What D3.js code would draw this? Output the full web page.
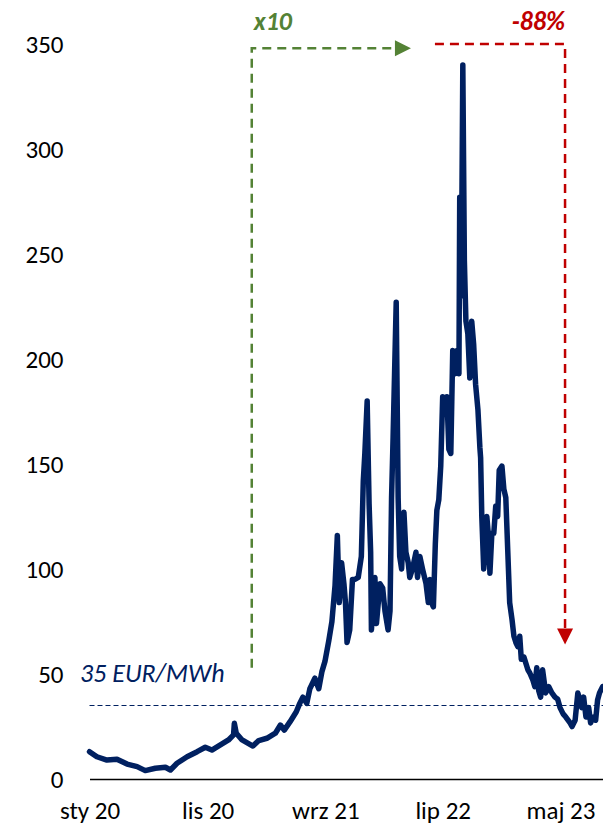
<!DOCTYPE html>
<html>
<head>
<meta charset="utf-8">
<script src="https://cdn.jsdelivr.net/npm/d3@7"></script>
<style>
  html, body { margin: 0; padding: 0; background: #ffffff; }
  svg { display: block; }
</style>
</head>
<body>
<svg id="chart" width="603" height="826"></svg>
<script>
// TTF gas price, EUR/MWh
const priceDates = [
  "2020-01-01","2020-01-20","2020-02-15","2020-03-12","2020-04-07","2020-05-03","2020-05-24",
  "2020-06-19","2020-07-15","2020-07-28","2020-08-14","2020-09-09","2020-10-05","2020-10-26",
  "2020-11-12","2020-12-04","2020-12-25","2021-01-07","2021-01-09","2021-01-14","2021-01-29",
  "2021-02-26","2021-03-13","2021-04-03","2021-04-25","2021-05-08","2021-05-18","2021-06-02",
  "2021-06-18","2021-06-27","2021-07-05","2021-07-15","2021-07-23","2021-08-05","2021-08-15",
  "2021-08-23","2021-08-31","2021-09-10","2021-09-18","2021-09-26","2021-10-02","2021-10-07",
  "2021-10-13","2021-10-19","2021-10-23","2021-10-27","2021-11-03","2021-11-10","2021-11-16",
  "2021-11-25","2021-12-03","2021-12-08","2021-12-12","2021-12-18","2021-12-23","2021-12-27",
  "2021-12-29","2022-01-07","2022-01-11","2022-01-20","2022-01-27","2022-02-02","2022-02-10",
  "2022-02-15","2022-02-19","2022-02-23","2022-03-03","2022-03-08","2022-03-12","2022-03-17",
  "2022-03-23","2022-03-28","2022-04-03","2022-04-07","2022-04-14","2022-04-23","2022-04-27",
  "2022-05-03","2022-05-10","2022-05-19","2022-05-25","2022-05-29","2022-06-02","2022-06-07",
  "2022-06-12","2022-06-16","2022-06-21","2022-06-26","2022-07-01","2022-07-07","2022-07-12",
  "2022-07-17","2022-07-22","2022-07-27","2022-08-02","2022-08-07","2022-08-12","2022-08-14",
  "2022-08-18","2022-08-22","2022-08-26","2022-08-30","2022-09-04","2022-09-09","2022-09-14",
  "2022-09-19","2022-09-24","2022-09-30","2022-10-05","2022-10-07","2022-10-10","2022-10-15",
  "2022-10-20","2022-10-23","2022-10-28","2022-10-31","2022-11-05","2022-11-10","2022-11-15",
  "2022-11-20","2022-11-24","2022-12-01","2022-12-06","2022-12-11","2022-12-16","2022-12-21",
  "2022-12-27","2023-01-01","2023-01-06","2023-01-11","2023-01-16","2023-01-20","2023-01-27",
  "2023-02-01","2023-02-06","2023-02-11","2023-02-19","2023-02-24","2023-03-01","2023-03-06",
  "2023-03-11","2023-03-16","2023-03-24","2023-04-01","2023-04-09","2023-04-17","2023-04-24",
  "2023-04-30","2023-05-08","2023-05-15","2023-05-26","2023-05-31","2023-06-08","2023-06-15",
  "2023-06-20","2023-06-25","2023-06-30","2023-07-06","2023-07-13","2023-07-18","2023-07-23",
  "2023-07-31","2023-08-05","2023-08-10","2023-08-18"
];
const priceValues = [
  13.0, 10.6, 9.0, 9.4, 7.1, 5.9, 4.0,
  5.1, 5.6, 4.3, 7.5, 10.6, 13.0, 15.1,
  13.8, 16.2, 18.6, 21.0, 26.5, 21.8, 18.6,
  15.7, 18.3, 19.4, 21.8, 25.7, 23.3, 27.3,
  32.0, 36, 39, 36, 43, 48, 43,
  51, 56, 66, 75, 92, 116, 84,
  103, 93, 84, 65, 71, 95, 95,
  96, 106, 142, 155, 180, 131, 108,
  71, 96, 74, 93, 91, 80, 71,
  80, 134, 163, 227, 134, 106, 100,
  127, 108, 103, 96, 100, 108, 96,
  106, 100, 93, 84, 95, 84, 82,
  112, 128, 133, 149, 182, 176, 182,
  157, 155, 204, 193, 204, 193, 277,
  230, 340, 247, 218, 212, 191, 218,
  207, 188, 176, 158, 153, 125, 100,
  112, 125, 114, 98, 117, 117, 130,
  125, 147, 149, 138, 134, 109, 84,
  76, 68, 65, 63, 68, 57, 58,
  55, 52, 50.5, 47, 44, 53, 42,
  39, 52, 41, 44, 41, 39, 38,
  34, 31, 29.5, 26.7, 25, 28, 41,
  37.6, 34, 39, 29.5, 34, 26.7, 29.5,
  28, 37.6, 41, 44
];

const yTickValues = [0, 50, 100, 150, 200, 250, 300, 350];
const xTickDates = ["2020-01-01", "2020-11-01", "2021-09-01", "2022-07-01", "2023-05-01"];
const xTickLabels = ["sty 20", "lis 20", "wrz 21", "lip 22", "maj 23"];

const thresholdValue = 35;
const thresholdLabel = "35 EUR/MWh";

// Rise annotation: from early 2021 up to the top, then right
const riseLabel = "x10";
const riseStart = "2021-02-23";
const riseEnd = "2022-04-10";
const riseLow = 53;
const riseHigh = 348;

// Fall annotation: across the top, then down to the 2023 level
const fallLabel = "-88%";
const fallStart = "2022-06-11";
const fallEnd = "2023-05-13";
const fallHigh = 350;
const fallLow = 64;

const parse = d3.utcParse("%Y-%m-%d");
const series = priceDates.map((d, i) => ({ date: parse(d), value: priceValues[i] }));

const width = 603, height = 826;
const margin = { top: 44, right: 0, bottom: 47, left: 89.5 };
const FONT = "Carlito, Calibri, Lato, 'Open Sans', sans-serif";
const NAVY = "#002060";
const GREEN = "#548235";
const RED = "#C00000";

const svg = d3.select("#chart");

const x = d3.scaleUtc()
  .domain([parse("2020-01-01"), parse("2023-08-19")])
  .range([margin.left, width - margin.right]);

const y = d3.scaleLinear()
  .domain([0, 350])
  .range([height - margin.bottom, margin.top]);

// Y axis: labels only
const yAxis = svg.append("g")
  .attr("transform", `translate(${margin.left - 26},0)`)
  .call(d3.axisLeft(y).tickValues(yTickValues).tickSize(0).tickPadding(0));
yAxis.select(".domain").remove();
yAxis.selectAll("text")
  .attr("font-family", FONT)
  .attr("font-size", 25)
  .attr("fill", "#000")
  .attr("dy", "0.35em");

// X axis: baseline with centered labels
const xAxis = svg.append("g")
  .attr("transform", `translate(0,${y(0)})`)
  .call(d3.axisBottom(x)
    .tickValues(xTickDates.map(parse))
    .tickFormat((d, i) => xTickLabels[i])
    .tickSize(0)
    .tickPadding(22));
xAxis.select(".domain")
  .attr("stroke", "#000")
  .attr("stroke-width", 1.5);
xAxis.selectAll("text")
  .attr("font-family", FONT)
  .attr("font-size", 25)
  .attr("fill", "#000");

// Threshold line
svg.append("line")
  .attr("x1", x.range()[0]).attr("x2", x.range()[1])
  .attr("y1", y(thresholdValue)).attr("y2", y(thresholdValue))
  .attr("stroke", NAVY)
  .attr("stroke-width", 1)
  .attr("stroke-dasharray", "5,3");

svg.append("text")
  .attr("x", 80)
  .attr("y", y(thresholdValue) - 24)
  .attr("font-family", FONT)
  .attr("font-style", "italic")
  .attr("font-size", 26)
  .attr("fill", NAVY)
  .text(thresholdLabel);

// Price line
const line = d3.line()
  .x(d => x(d.date))
  .y(d => y(d.value))
  .curve(d3.curveLinear);

svg.append("path")
  .datum(series)
  .attr("d", line)
  .attr("fill", "none")
  .attr("stroke", NAVY)
  .attr("stroke-width", 5.5)
  .attr("stroke-linejoin", "round")
  .attr("stroke-linecap", "round");

// Rise arrow
const rx0 = x(parse(riseStart)), rx1 = x(parse(riseEnd));
svg.append("path")
  .attr("d", `M${rx0},${y(riseLow)} V${y(riseHigh)} H${rx1 - 16}`)
  .attr("fill", "none")
  .attr("stroke", GREEN)
  .attr("stroke-width", 2.5)
  .attr("stroke-dasharray", "9,6");
svg.append("path")
  .attr("d", `M${rx1 - 16},${y(riseHigh) - 8} L${rx1},${y(riseHigh)} L${rx1 - 16},${y(riseHigh) + 8} Z`)
  .attr("fill", GREEN);
svg.append("text")
  .attr("x", rx0 + 2)
  .attr("y", 30)
  .attr("font-family", FONT)
  .attr("font-weight", "bold")
  .attr("font-style", "italic")
  .attr("font-size", 26)
  .attr("fill", GREEN)
  .text(riseLabel);

// Fall arrow
const fx0 = x(parse(fallStart)), fx1 = x(parse(fallEnd));
svg.append("path")
  .attr("d", `M${fx0},${y(fallHigh)} H${fx1} V${y(fallLow) - 16}`)
  .attr("fill", "none")
  .attr("stroke", RED)
  .attr("stroke-width", 2.5)
  .attr("stroke-dasharray", "9,6");
svg.append("path")
  .attr("d", `M${fx1 - 8},${y(fallLow) - 16} L${fx1},${y(fallLow)} L${fx1 + 8},${y(fallLow) - 16} Z`)
  .attr("fill", RED);
svg.append("text")
  .attr("x", fx1)
  .attr("y", 30)
  .attr("text-anchor", "end")
  .attr("font-family", FONT)
  .attr("font-weight", "bold")
  .attr("font-style", "italic")
  .attr("font-size", 26)
  .attr("fill", RED)
  .text(fallLabel);
</script>
</body>
</html>
